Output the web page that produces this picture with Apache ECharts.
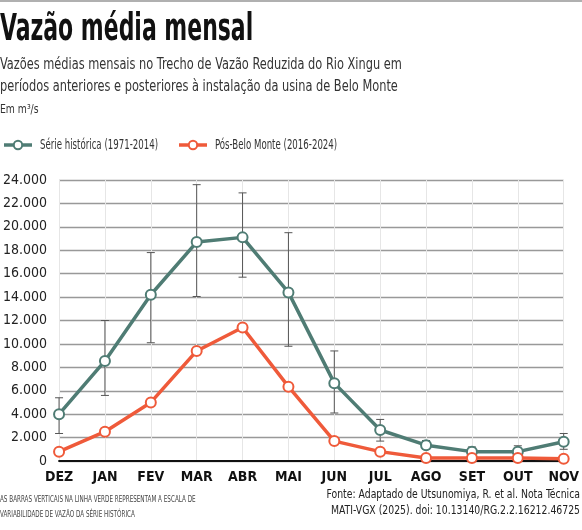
<!DOCTYPE html>
<html><head><meta charset="utf-8">
<script src="https://cdn.jsdelivr.net/npm/echarts@6/dist/echarts.min.js"></script>
<style>html,body{margin:0;padding:0;background:#fff}#c{width:582px;height:530px}</style>
</head><body><div id="c"></div><script>
const months = ['DEZ','JAN','FEV','MAR','ABR','MAI','JUN','JUL','AGO','SET','OUT','NOV'];
const historica = [4000,8550,14200,18700,19100,14400,6650,2650,1350,800,800,1650];
const posBeloMonte = [800,2500,5000,9400,11400,6350,1700,800,250,250,250,200];
const barraMin = [2350,5600,10100,14050,15700,9800,4100,1700,1000,500,500,1000];
const barraMax = [5400,12000,17800,23600,22900,19500,9400,3550,1750,1200,1300,2350];
const nomeHist = 'Série histórica (1971-2014)';
const nomePos = 'Pós-Belo Monte (2016-2024)';

const FF = '"DejaVu Sans Condensed", "Liberation Sans Narrow", sans-serif';
const GREEN = '#4f7c74';
const ORANGE = '#ef5a3a';
const chart = echarts.init(document.getElementById('c'));

function fmt(v){ return String(v).replace(/\B(?=(\d{3})+(?!\d))/g,'.'); }

function txt(x, y, text, font, fill, sx, extra){
  return {type:'text', x:x, y:y, scaleX:sx, silent:true,
    style:Object.assign({x:0, y:0, text:text, font:font, fill:fill, verticalAlign:'top'}, extra||{})};
}
function legendItem(x, y, color, label){
  return {type:'group', x:x, y:y, silent:true, children:[
    {type:'line', shape:{x1:0,y1:0,x2:28,y2:0}, style:{stroke:color, lineWidth:3.5}},
    {type:'circle', shape:{cx:14, cy:0, r:4.2}, style:{fill:'#fff', stroke:color, lineWidth:2}},
    {type:'text', x:36, y:0, scaleX:0.66, style:{x:0,y:0,text:label, font:'14.5px '+FF, fill:'#333', verticalAlign:'middle'}}
  ]};
}

chart.setOption({
  animation:false,
  backgroundColor:'#fff',
  textStyle:{fontFamily:FF},
  graphic:[
    {type:'rect', x:0, y:0, shape:{width:582,height:2}, style:{fill:'#b0b0b0'}, silent:true},
    txt(0, 12, 'Vazão média mensal', 'bold 37px '+FF, '#111', 0.66),
    txt(0, 54, 'Vazões médias mensais no Trecho de Vazão Reduzida do Rio Xingu em\nperíodos anteriores e posteriores à instalação da usina de Belo Monte', '16px '+FF, '#333', 0.79, {lineHeight:22}),
    txt(0, 104, 'Em m³/s', '12px '+FF, '#333', 0.86),
    txt(0, 492, 'AS BARRAS VERTICAIS NA LINHA VERDE REPRESENTAM A ESCALA DE\nVARIABILIDADE DE VAZÃO DA SÉRIE HISTÓRICA', '8.5px '+FF, '#444', 0.74, {lineHeight:15}),
    txt(580, 487, 'Fonte: Adaptado de Utsunomiya, R. et al. Nota Técnica\nMATI-VGX (2025). doi: 10.13140/RG.2.2.16212.46725', '11.5px '+FF, '#222', 0.9, {lineHeight:16, align:'right'}),
    legendItem(4, 145, GREEN, nomeHist),
    legendItem(179, 145, ORANGE, nomePos)
  ],
  grid:{left:55, right:18, top:180, bottom:69},
  xAxis:{
    type:'category', data:months, boundaryGap:false,
    axisLine:{lineStyle:{color:'#111', width:2}},
    axisTick:{show:false},
    axisLabel:{fontSize:14, fontWeight:'bold', color:'#111', margin:9, fontFamily:FF},
    splitLine:{show:true, lineStyle:{color:'#e6e6e6', width:1}}
  },
  yAxis:{
    type:'value', min:0, max:24000, interval:2000,
    axisLine:{show:false}, axisTick:{show:false},
    axisLabel:{fontSize:14, color:'#222', margin:12, fontFamily:FF, formatter:fmt},
    splitLine:{lineStyle:{color:'#999', width:1.3}}
  },
  series:[
    {
      type:'custom', name:'barras', silent:true,
      data: months.map((m,i)=>[i, barraMin[i], barraMax[i]]),
      encode:{x:0, y:[1,2]},
      renderItem:function(params, api){
        const lo = api.coord([api.value(0), api.value(1)]);
        const hi = api.coord([api.value(0), api.value(2)]);
        const w = 8, st = {stroke:'#555', lineWidth:1};
        return {type:'group', children:[
          {type:'line', shape:{x1:lo[0],y1:lo[1],x2:hi[0],y2:hi[1]}, style:st},
          {type:'line', shape:{x1:lo[0]-w/2,y1:lo[1],x2:lo[0]+w/2,y2:lo[1]}, style:st},
          {type:'line', shape:{x1:hi[0]-w/2,y1:hi[1],x2:hi[0]+w/2,y2:hi[1]}, style:st}
        ]};
      }
    },
    {
      type:'line', name:nomeHist, data:historica, color:GREEN,
      symbol:'circle', symbolSize:10, showAllSymbol:true,
      lineStyle:{color:GREEN, width:3.5},
      itemStyle:{color:'#fff', borderColor:GREEN, borderWidth:2}
    },
    {
      type:'line', name:nomePos, data:posBeloMonte, color:ORANGE,
      symbol:'circle', symbolSize:10, showAllSymbol:true,
      lineStyle:{color:ORANGE, width:3.5},
      itemStyle:{color:'#fff', borderColor:ORANGE, borderWidth:2}
    }
  ]
});
</script></body></html>
